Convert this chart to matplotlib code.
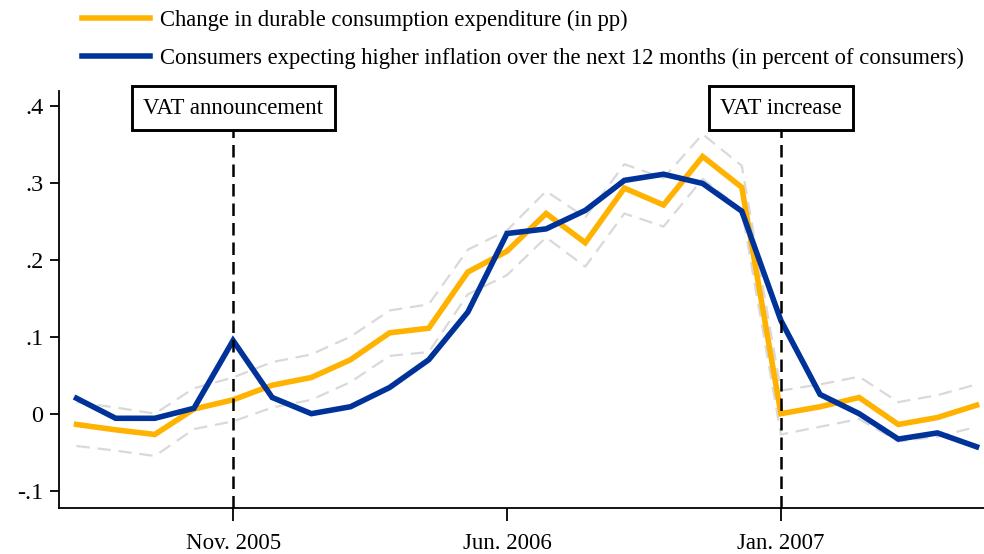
import matplotlib
matplotlib.use("Agg")
import matplotlib.pyplot as plt

plt.rcParams['font.family'] = ['Liberation Serif', 'DejaVu Serif']

months = ["Jul05", "Aug05", "Sep05", "Oct05", "Nov05", "Dec05", "Jan06", "Feb06",
          "Mar06", "Apr06", "May06", "Jun06", "Jul06", "Aug06", "Sep06", "Oct06",
          "Nov06", "Dec06", "Jan07", "Feb07", "Mar07", "Apr07", "May07", "Jun07"]

durable = [-0.014, -0.021, -0.027, 0.006, 0.018, 0.037, 0.047, 0.070,
           0.105, 0.111, 0.184, 0.211, 0.260, 0.222, 0.293, 0.271,
           0.334, 0.294, 0.000, 0.009, 0.021, -0.014, -0.005, 0.011]
durable_upper = [0.015, 0.008, 0.000, 0.033, 0.047, 0.067, 0.077, 0.100,
                 0.134, 0.142, 0.213, 0.238, 0.289, 0.255, 0.324, 0.306,
                 0.363, 0.322, 0.030, 0.038, 0.048, 0.015, 0.024, 0.038]
durable_lower = [-0.042, -0.048, -0.055, -0.020, -0.010, 0.008, 0.018, 0.041,
                 0.075, 0.080, 0.155, 0.180, 0.229, 0.191, 0.260, 0.243,
                 0.305, 0.265, -0.027, -0.017, -0.007, -0.036, -0.030, -0.017]
inflation = [0.020, -0.006, -0.006, 0.007, 0.095, 0.021, 0.000, 0.009,
             0.034, 0.070, 0.132, 0.234, 0.240, 0.264, 0.303, 0.311,
             0.299, 0.263, 0.121, 0.025, 0.000, -0.033, -0.025, -0.043]

tick_months = ["Nov05", "Jun06", "Jan07"]
tick_labels = ["Nov. 2005", "Jun. 2006", "Jan. 2007"]
ytick_values = [-0.1, 0.0, 0.1, 0.2, 0.3, 0.4]
ytick_labels = ["-.1", "0", ".1", ".2", ".3", ".4"]

events = [("Nov05", "VAT announcement"), ("Jan07", "VAT increase")]

label_durable = "Change in durable consumption expenditure (in pp)"
label_infl = "Consumers expecting higher inflation over the next 12 months (in percent of consumers)"

x = list(range(len(months)))
idx = {m: i for i, m in enumerate(months)}

fig = plt.figure(figsize=(9.84, 5.54), dpi=100)
ax = fig.add_axes([0.0603, 0.0825, 0.9397, 0.7538])

grey = '#d9d9d9'
ax.plot(x, durable_upper, color=grey, lw=1.6, dashes=(6, 3.5), zorder=2)
ax.plot(x, durable_lower, color=grey, lw=1.6, dashes=(6, 3.5), zorder=2)
l1, = ax.plot(x, durable, color='#FFB300', lw=4.0, zorder=3, label=label_durable,
              solid_joinstyle='miter')
l2, = ax.plot(x, inflation, color='#00339A', lw=4.0, zorder=4, label=label_infl,
              solid_joinstyle='miter')

ax.set_xlim(-0.44, 23.19)
ax.set_ylim(-0.1229, 0.4195)

for m, txt in events:
    xi = idx[m]
    ax.plot([xi, xi], [-0.1229, 0.37], color='black', lw=1.8, dashes=(5, 2.8), zorder=5,
            clip_on=False)
    ax.text(xi, 0.397, txt, ha='center', va='center', fontsize=16.5, zorder=6,
            clip_on=False,
            bbox=dict(boxstyle='square,pad=0.5', fc='white', ec='black', lw=2.1))

ax.set_xticks([idx[m] for m in tick_months])
ax.set_xticklabels(tick_labels, fontsize=16.5)
ax.set_yticks(ytick_values)
ax.set_yticklabels(ytick_labels, fontsize=17.5)

ax.tick_params(axis='x', length=9, width=1.3, pad=9)
ax.tick_params(axis='y', length=6.5, width=1.3, pad=5)
for s in ['top', 'right']:
    ax.spines[s].set_visible(False)
for s in ['left', 'bottom']:
    ax.spines[s].set_linewidth(1.3)

fig.legend(handles=[l1, l2], loc='upper left', bbox_to_anchor=(0.083, 0.983),
           frameon=False, fontsize=16.3, handlelength=3.0, handletextpad=0.45,
           labelspacing=0.76, borderpad=0, borderaxespad=0)

fig.savefig("out.png", dpi=100)
